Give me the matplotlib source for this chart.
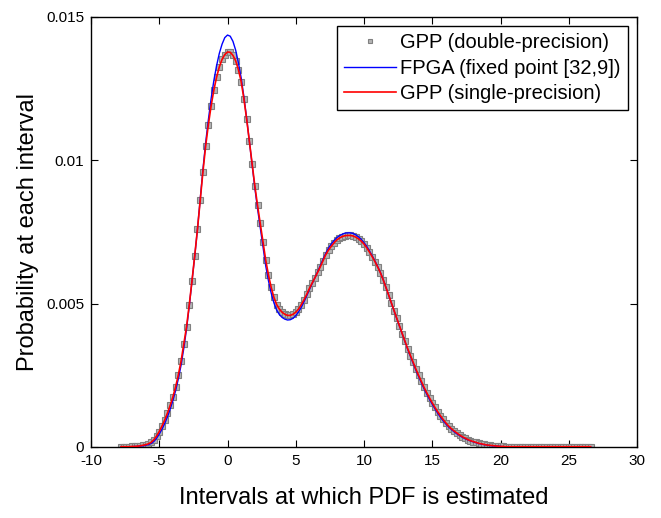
import numpy as np
import matplotlib
matplotlib.use("Agg")
import matplotlib.pyplot as plt

plt.rcParams['font.family'] = ['Liberation Sans', 'DejaVu Sans']

# Evaluation grid of the estimated PDF
x_start = -7.8
x_step = 0.2

gpp_double = [
    0.00001, 0.00001, 0.00001, 0.00001, 0.00002, 0.00002, 0.00003, 0.00004, 0.00006, 0.00008,   # -7.8 .. -6.0
    0.00011, 0.00016, 0.00025, 0.00038, 0.00054, 0.00073, 0.00094, 0.00118, 0.00145, 0.00175,   # -5.8 .. -4.0
    0.00210, 0.00252, 0.00300, 0.00360, 0.00420, 0.00497, 0.00580, 0.00668, 0.00760, 0.00862,   # -3.8 .. -2.0
    0.00960, 0.01050, 0.01125, 0.01190, 0.01245, 0.01290, 0.01326, 0.01352, 0.01369, 0.01378,   # -1.8 .. 0.0
    0.01377, 0.01366, 0.01347, 0.01316, 0.01275, 0.01215, 0.01145, 0.01067, 0.00986, 0.00912,   # 0.2 .. 2.0
    0.00843, 0.00780, 0.00716, 0.00652, 0.00600, 0.00557, 0.00522, 0.00497, 0.00481, 0.00470,   # 2.2 .. 4.0
    0.00463, 0.00459, 0.00459, 0.00463, 0.00470, 0.00481, 0.00496, 0.00513, 0.00532, 0.00553,   # 4.2 .. 6.0
    0.00572, 0.00590, 0.00609, 0.00629, 0.00650, 0.00671, 0.00687, 0.00700, 0.00712, 0.00722,   # 6.2 .. 8.0
    0.00729, 0.00734, 0.00737, 0.00738, 0.00738, 0.00736, 0.00732, 0.00726, 0.00718, 0.00708,   # 8.2 .. 10.0
    0.00695, 0.00680, 0.00664, 0.00647, 0.00628, 0.00608, 0.00584, 0.00558, 0.00531, 0.00503,   # 10.2 .. 12.0
    0.00476, 0.00449, 0.00422, 0.00395, 0.00369, 0.00343, 0.00319, 0.00295, 0.00272, 0.00250,   # 12.2 .. 14.0
    0.00229, 0.00208, 0.00189, 0.00171, 0.00154, 0.00138, 0.00123, 0.00109, 0.00096, 0.00084,   # 14.2 .. 16.0
    0.00073, 0.00064, 0.00056, 0.00049, 0.00042, 0.00036, 0.00031, 0.00026, 0.00022, 0.00019,   # 16.2 .. 18.0
    0.00016, 0.00013, 0.00011, 0.00009, 0.00007, 0.00006, 0.00005, 0.00004, 0.00003, 0.00002,   # 18.2 .. 20.0
    0.00002, 0.00001, 0.00001, 0.00001, 0.00001, 0.00001, 0.00001, 0.00001, 0.00001, 0.00001,   # 20.2 .. 22.0
    0.00001, 0.00001, 0.00001, 0.00001, 0.00001, 0.00001, 0.00001, 0.00001, 0.00001, 0.00001,   # 22.2 .. 24.0
    0.00001, 0.00001, 0.00001, 0.00001, 0.00001, 0.00001, 0.00001, 0.00001, 0.00001, 0.00001,   # 24.2 .. 26.0
    0.00001, 0.00001, 0.00001,                                                                   # 26.2 .. 26.6
]

fpga_fixed = [
    0.00000, 0.00000, 0.00001, 0.00001, 0.00001, 0.00002, 0.00002, 0.00003, 0.00004, 0.00006,   # -7.8 .. -6.0
    0.00008, 0.00012, 0.00019, 0.00030, 0.00045, 0.00062, 0.00082, 0.00105, 0.00132, 0.00162,   # -5.8 .. -4.0
    0.00197, 0.00238, 0.00286, 0.00345, 0.00412, 0.00492, 0.00578, 0.00666, 0.00760, 0.00865,   # -3.8 .. -2.0
    0.00968, 0.01062, 0.01142, 0.01215, 0.01278, 0.01330, 0.01373, 0.01405, 0.01428, 0.01437,   # -1.8 .. 0.0
    0.01433, 0.01415, 0.01384, 0.01340, 0.01288, 0.01222, 0.01148, 0.01066, 0.00983, 0.00905,   # 0.2 .. 2.0
    0.00832, 0.00765, 0.00698, 0.00632, 0.00580, 0.00537, 0.00503, 0.00478, 0.00462, 0.00452,   # 2.2 .. 4.0
    0.00446, 0.00443, 0.00444, 0.00449, 0.00458, 0.00471, 0.00487, 0.00506, 0.00527, 0.00549,   # 4.2 .. 6.0
    0.00570, 0.00590, 0.00611, 0.00633, 0.00655, 0.00676, 0.00694, 0.00708, 0.00720, 0.00730,   # 6.2 .. 8.0
    0.00737, 0.00742, 0.00746, 0.00747, 0.00747, 0.00745, 0.00740, 0.00733, 0.00724, 0.00713,   # 8.2 .. 10.0
    0.00700, 0.00684, 0.00667, 0.00649, 0.00630, 0.00609, 0.00585, 0.00558, 0.00531, 0.00503,   # 10.2 .. 12.0
    0.00475, 0.00448, 0.00421, 0.00394, 0.00367, 0.00341, 0.00316, 0.00292, 0.00268, 0.00246,   # 12.2 .. 14.0
    0.00224, 0.00203, 0.00184, 0.00166, 0.00149, 0.00133, 0.00118, 0.00104, 0.00091, 0.00080,   # 14.2 .. 16.0
    0.00070, 0.00061, 0.00053, 0.00046, 0.00040, 0.00034, 0.00029, 0.00025, 0.00021, 0.00018,   # 16.2 .. 18.0
    0.00015, 0.00012, 0.00010, 0.00008, 0.00007, 0.00005, 0.00004, 0.00003, 0.00003, 0.00002,   # 18.2 .. 20.0
    0.00001, 0.00001, 0.00001, 0.00001, 0.00001, 0.00001, 0.00001, 0.00001, 0.00001, 0.00001,   # 20.2 .. 22.0
    0.00001, 0.00001, 0.00001, 0.00001, 0.00001, 0.00001, 0.00001, 0.00001, 0.00001, 0.00001,   # 22.2 .. 24.0
    0.00001, 0.00001, 0.00001, 0.00001, 0.00001, 0.00001, 0.00001, 0.00001, 0.00001, 0.00001,   # 24.2 .. 26.0
    0.00001, 0.00001, 0.00001,                                                                   # 26.2 .. 26.6
]

# single precision result is indistinguishable from double precision at this scale
gpp_single = list(gpp_double)

series_labels = ['GPP (double-precision)', 'FPGA (fixed point [32,9])', 'GPP (single-precision)']
x_ticks = [-10, -5, 0, 5, 10, 15, 20, 25, 30]
y_ticks = [0, 0.005, 0.01, 0.015]
y_tick_labels = ['0', '0.005', '0.01', '0.015']

x = np.round(x_start + x_step * np.arange(len(gpp_double)), 2)

fig = plt.figure(figsize=(6.61, 5.18), dpi=100)
ax = fig.add_axes([91 / 661, 1 - 447 / 518, (637 - 91) / 661, (447 - 17) / 518])

ax.plot(x, gpp_double, linestyle='none', marker='s', markersize=4.2,
        markerfacecolor='#b4b4b4', markeredgecolor='#808080', markeredgewidth=0.8,
        label=series_labels[0], zorder=2)
ax.plot(x, fpga_fixed, color='#0000ff', linewidth=1.0, label=series_labels[1], zorder=3)
ax.plot(x, gpp_single, color='#ff0000', linewidth=1.2, label=series_labels[2], zorder=4)

ax.set_xlim(-10, 30)
ax.set_ylim(0, 0.015)
ax.set_xticks(x_ticks)
ax.set_xticklabels([str(t) for t in x_ticks])
ax.set_yticks(y_ticks)
ax.set_yticklabels(y_tick_labels)
ax.tick_params(direction='in', length=5, width=0.8, top=True, right=True,
               labelsize=11, pad=5, colors='black')
for s in ax.spines.values():
    s.set_linewidth(1.0)
    s.set_color('black')

ax.set_xlabel('Intervals at which PDF is estimated', fontsize=17, labelpad=14)
ax.set_ylabel('Probability at each interval', fontsize=17, labelpad=5)

leg = ax.legend(loc='upper right', fontsize=14.5, frameon=True, fancybox=False,
                edgecolor='black', framealpha=1, handlelength=2.6, handletextpad=0.2,
                borderpad=0.35, labelspacing=0.32, borderaxespad=0.45, markerscale=0.85)
leg.get_frame().set_linewidth(1.0)

fig.savefig('out.png', dpi=100)
